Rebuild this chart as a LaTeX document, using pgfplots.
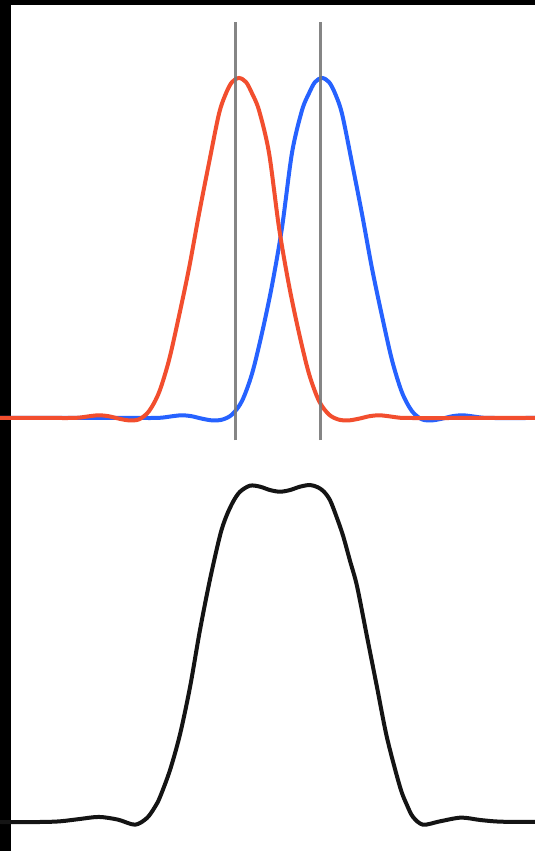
\documentclass[border=0pt]{standalone}
\usepackage{pgfplots}
\pgfplotsset{compat=1.18}
\definecolor{cred}{RGB}{242,78,46}
\definecolor{cblue}{RGB}{38,98,255}
\definecolor{cgray}{RGB}{120,120,120}
\definecolor{cblack}{RGB}{20,20,20}
\pgfplotstableread{
x y
0 0
49 0
59 0
69 0
79 0.001
89 0.005
99 0.008
109 0.005
119 -0.002
129 -0.007
139 -0.004
149 0.02
159 0.075
169 0.17
179 0.30
189 0.44
199 0.60
209 0.75
219 0.895
226 0.955
232 0.988
239 1.0
246 0.988
252 0.955
259 0.905
269 0.78
279 0.56
289 0.39
299 0.25
309 0.13
319 0.05
329 0.01
339 -0.005
349 -0.007
359 -0.002
369 0.005
379 0.008
389 0.005
399 0.001
409 0
470 0
535 0
}\redtab
\pgfplotstableread{
x y
0 0
80 0
142 0
152 0
162 0.001
172 0.005
182 0.008
192 0.005
202 -0.002
212 -0.007
222 -0.005
232 0.01
242 0.05
252 0.13
262 0.25
272 0.39
282 0.56
292 0.78
302 0.905
309 0.955
315 0.988
322 1.0
329 0.988
335 0.955
342 0.895
352 0.75
362 0.60
372 0.44
382 0.30
392 0.17
402 0.075
412 0.02
422 -0.004
432 -0.007
442 -0.002
452 0.005
462 0.008
472 0.005
482 0.001
492 0
535 0
}\bluetab
\pgfplotstableread{
x y
0 0
40 0
60 0.002
80 0.009
99 0.015
118 0.007
135 -0.008
147 0.012
155 0.045
160 0.074
170 0.154
180 0.26
190 0.40
200 0.57
210 0.72
220 0.85
226 0.905
233 0.95
240 0.98
250 0.998
260 0.995
270 0.985
280 0.98
290 0.985
300 0.995
310 1.0
318 0.993
324 0.98
330 0.955
336 0.91
343 0.85
350 0.775
357 0.70
367 0.55
377 0.40
387 0.25
400 0.104
407 0.05
413 0.015
423 -0.008
440 0.002
461 0.013
480 0.006
500 0.001
535 0
}\sumtab
\begin{document}
\begin{tikzpicture}
\useasboundingbox (0,0) rectangle (535pt,851pt);
\fill[black] (0,0) rectangle (535pt,851pt);
\fill[white] (11pt,0) rectangle (535pt,846pt);
% top panel
\begin{axis}[
  at={(0,0)}, anchor=south west,
  scale only axis, width=535pt, height=851pt,
  xmin=0, xmax=535, ymin=-1.27353, ymax=1.22941,
  hide axis, clip=true,
]
\addplot[cblue, line width=4pt, smooth] table[x=x,y=y] {\bluetab};
\addplot[cred, line width=4pt, smooth] table[x=x,y=y] {\redtab};
\addplot[cgray, line width=3pt, opacity=0.9] coordinates {(235.5,-0.065) (235.5,1.165)};
\addplot[cgray, line width=3pt, opacity=0.9] coordinates {(320,-0.065) (320,1.165)};
\end{axis}
% bottom panel
\begin{axis}[
  at={(0,0)}, anchor=south west,
  scale only axis, width=535pt, height=851pt,
  xmin=0, xmax=535, ymin=-0.086053, ymax=2.43917,
  hide axis, clip=true,
]
\addplot[cblack, line width=4pt, smooth] table[x=x,y=y] {\sumtab};
\end{axis}
\end{tikzpicture}
\end{document}
